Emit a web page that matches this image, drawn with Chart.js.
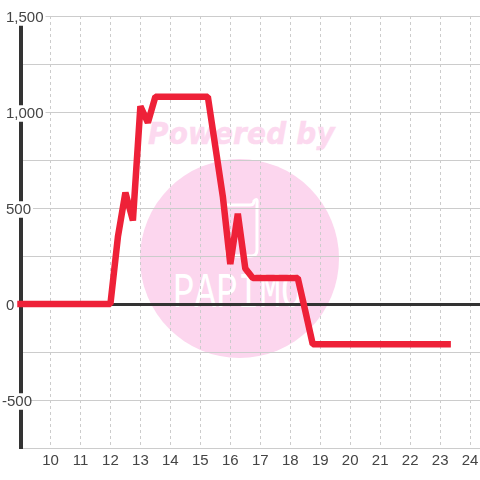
<!DOCTYPE html>
<html>
<head>
    <title>Power chart</title>
    <script src="https://cdn.jsdelivr.net/npm/chart.js"></script>
    <style>
        body { margin: 0; background: white; overflow: hidden; }
        #wrap { position: relative; width: 480px; height: 480px; }
        #wrap canvas { position: absolute; left: 0; top: 0; }
        .circle { position: absolute; left: 140px; top: 159px; width: 199px; height: 199px; border-radius: 50%; background: #fcd6ee; }
        .powered { position: absolute; left: 148px; top: 115px; font: italic bold 31px "DejaVu Sans Condensed", "DejaVu Sans", sans-serif; font-stretch: condensed; color: #fcd9ef; white-space: nowrap; letter-spacing: 0.2px; -webkit-text-stroke: 0.5px #fcd9ef; }
        .logo { position: absolute; left: 0; top: 0; }
    </style>
</head>
<body>
    <div id="wrap">
        <div class="circle"></div>
        <div class="powered">Powered by</div>
        <svg class="logo" width="480" height="480">
            <path d="M226 205 H250 Q254 205 254 201 Q258 197 257 204 V250 Q257 256 251 256 H232 Q226 256 226 250" fill="none" stroke="white" stroke-width="3"/>
            <text transform="translate(173 307) scale(1 1.4)" font-family="Liberation Mono, monospace" font-size="36" fill="white">PAPIMO</text>
        </svg>
        <canvas id="chart" width="480" height="480"></canvas>
    </div>

    <script>
        const hours = [9, 12, 12.25, 12.5, 12.75, 13, 13.25, 13.5, 15.25, 15.5, 15.75, 16, 16.25, 16.5, 16.75, 18.25, 18.5, 18.75, 23.25];
        const power = [0, 0, 350, 580, 435, 1030, 945, 1080, 1080, 820, 560, 208, 470, 185, 135, 135, -35, -210, -210];
        const hourTicks = [10, 11, 12, 13, 14, 15, 16, 17, 18, 19, 20, 21, 22, 23, 24];
        const points = hours.map((h, i) => ({ x: h, y: power[i] }));

        // the minus sign hangs out to the left of the other labels
        const hangMinus = {
            id: 'hangMinus',
            beforeDraw(chart) {
                chart.scales.y.getLabelItems(chart.chartArea).forEach(item => {
                    if (item.label === '-500' && !item.moved) {
                        item.moved = true;
                        item.options.translation[0] -= 4;
                        item.options.backdrop.left -= 4;
                    }
                });
            }
        };

        new Chart(document.getElementById('chart'), {
            type: 'line',
            data: {
                datasets: [{
                    data: points,
                    borderColor: '#ee2138',
                    borderWidth: 6.5,
                    borderJoinStyle: 'bevel',
                    borderCapStyle: 'square',
                    pointRadius: 0,
                    tension: 0,
                    clip: false
                }]
            },
            plugins: [hangMinus],
            options: {
                responsive: false,
                animation: false,
                layout: { padding: { left: 20.5, top: 16, right: 0, bottom: 0 } },
                plugins: { legend: { display: false }, tooltip: { enabled: false } },
                scales: {
                    x: {
                        type: 'linear',
                        min: 9,
                        max: 24.33,
                        afterBuildTicks: scale => {
                            scale.ticks = hourTicks.map(h => ({ value: h }));
                        },
                        afterFit: scale => {
                            scale.height = 32;
                            scale.paddingLeft = 0;
                            scale.paddingRight = 0;
                        },
                        ticks: {
                            autoSkip: false,
                            maxRotation: 0,
                            padding: 4,
                            color: '#444',
                            font: { family: '"Liberation Sans"', size: 15 },
                            callback: v => String(v)
                        },
                        grid: { color: '#ccc', lineWidth: 1, drawTicks: false },
                        border: { color: '#ccc', width: 1, dash: [3, 3] }
                    },
                    y: {
                        min: -750,
                        max: 1500,
                        afterFit: scale => { scale.width = 0; },
                        ticks: {
                            stepSize: 250,
                            mirror: true,
                            padding: -14.5,
                            labelOffset: 1.5,
                            color: '#444',
                            font: { family: '"Liberation Sans"', size: 15, lineHeight: 1.1 },
                            showLabelBackdrop: c => c.tick.value % 500 === 0 && c.tick.value !== 0,
                            backdropColor: 'white',
                            backdropPadding: { x: 2, y: 0 },
                            callback: v => v % 500 === 0 ? v.toLocaleString('en-US') : ''
                        },
                        grid: {
                            drawTicks: false,
                            color: c => c.tick.value === 0 ? '#333' : '#ccc',
                            lineWidth: c => c.tick.value === 0 ? 3 : 1
                        },
                        border: { color: '#333', width: 4 }
                    }
                }
            }
        });
    </script>
</body>
</html>
